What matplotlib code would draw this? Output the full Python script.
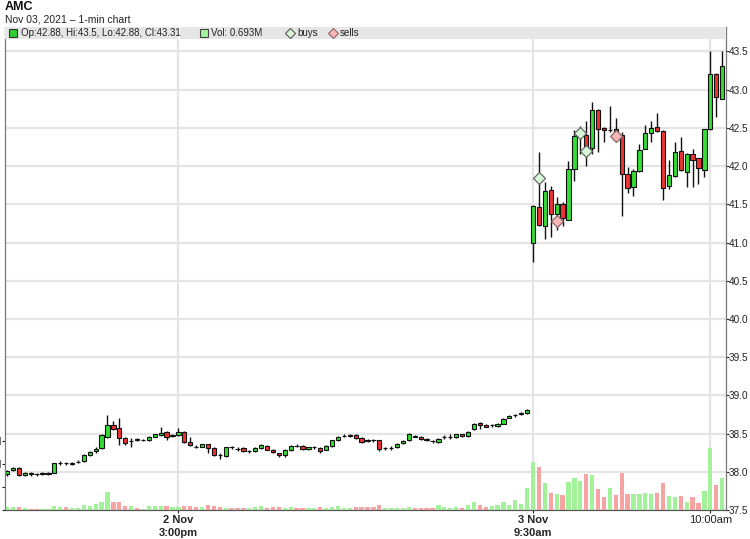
import numpy as np
import matplotlib
matplotlib.use("Agg")
import matplotlib.pyplot as plt
from matplotlib.patches import Rectangle
from matplotlib.lines import Line2D

plt.rcParams['font.family'] = ['Liberation Sans', 'DejaVu Sans']

# ---------------- data ----------------
opens = [37.97, 38.02, 38.05, 37.96, 37.99, 37.97, 37.97, 37.97, 37.99, 38.11,
         38.11, 38.10, 38.13, 38.14, 38.22, 38.27, 38.31, 38.45, 38.61, 38.57,
         38.44, 38.40, 38.43, 38.41, 38.41, 38.46, 38.48, 38.52, 38.47, 38.48,
         38.52, 38.39, 38.33, 38.33, 38.36, 38.31, 38.22, 38.21, 38.32, 38.30,
         38.31, 38.27, 38.27, 38.31, 38.34, 38.29, 38.24, 38.22, 38.28, 38.34,
         38.34, 38.30, 38.32, 38.31, 38.29, 38.34, 38.41, 38.47, 38.47, 38.48,
         38.44, 38.40, 38.41, 38.41, 38.31, 38.31, 38.32, 38.38, 38.41, 38.47,
         38.46, 38.43, 38.40, 38.39, 38.45, 38.45, 38.45, 38.49, 38.47, 38.56,
         38.64, 38.61, 38.61, 38.60, 38.63, 38.71, 38.74, 38.75, 38.77, 41.00,
         41.47, 41.22, 41.69, 41.37, 41.51, 41.30, 41.96, 42.40, 42.41, 42.24,
         42.74, 42.50, 42.47, 42.48, 42.41, 41.90, 41.72, 41.93, 42.23, 42.43,
         42.51, 42.46, 41.74, 41.87, 42.20, 41.92, 42.16, 42.10, 41.95, 42.48,
         43.20, 42.88]
highs = [38.02, 38.06, 38.06, 38.00, 38.00, 37.99, 38.00, 38.00, 38.12, 38.14,
         38.13, 38.13, 38.16, 38.23, 38.27, 38.32, 38.49, 38.74, 38.67, 38.71,
         38.45, 38.44, 38.44, 38.43, 38.47, 38.50, 38.59, 38.54, 38.50, 38.57,
         38.53, 38.45, 38.35, 38.37, 38.37, 38.32, 38.24, 38.33, 38.34, 38.32,
         38.32, 38.28, 38.32, 38.37, 38.35, 38.30, 38.25, 38.30, 38.35, 38.37,
         38.35, 38.33, 38.34, 38.32, 38.35, 38.42, 38.47, 38.49, 38.49, 38.49,
         38.45, 38.43, 38.43, 38.42, 38.33, 38.34, 38.38, 38.41, 38.51, 38.48,
         38.47, 38.44, 38.41, 38.44, 38.48, 38.49, 38.50, 38.50, 38.53, 38.64,
         38.65, 38.62, 38.63, 38.64, 38.70, 38.74, 38.76, 38.78, 38.82, 41.49,
         42.19, 41.79, 41.74, 41.59, 41.53, 42.07, 42.47, 42.52, 42.59, 42.84,
         42.75, 42.51, 42.78, 42.63, 42.45, 41.99, 41.96, 42.29, 42.54, 42.59,
         42.69, 42.47, 42.08, 42.31, 42.38, 42.17, 42.22, 42.11, 42.49, 43.50,
         43.22, 43.50]
lows = [37.95, 38.01, 37.95, 37.95, 37.95, 37.94, 37.96, 37.96, 37.98, 38.09,
        38.09, 38.09, 38.11, 38.13, 38.21, 38.25, 38.30, 38.44, 38.55, 38.35,
        38.35, 38.33, 38.40, 38.40, 38.40, 38.45, 38.47, 38.41, 38.45, 38.47,
        38.38, 38.34, 38.31, 38.32, 38.24, 38.21, 38.17, 38.20, 38.30, 38.27,
        38.26, 38.25, 38.26, 38.30, 38.28, 38.25, 38.20, 38.20, 38.27, 38.32,
        38.29, 38.29, 38.30, 38.24, 38.28, 38.33, 38.40, 38.45, 38.45, 38.43,
        38.38, 38.39, 38.39, 38.27, 38.29, 38.29, 38.31, 38.37, 38.40, 38.45,
        38.42, 38.40, 38.38, 38.38, 38.43, 38.43, 38.44, 38.46, 38.46, 38.55,
        38.56, 38.58, 38.59, 38.59, 38.62, 38.70, 38.72, 38.74, 38.76, 40.75,
        41.22, 41.04, 41.07, 41.16, 41.22, 41.29, 41.81, 42.16, 42.00, 42.16,
        42.19, 42.32, 42.45, 42.40, 41.35, 41.65, 41.61, 41.92, 42.22, 42.32,
        42.45, 41.56, 41.70, 41.86, 41.94, 41.73, 41.73, 41.76, 41.86, 42.47,
        42.64, 42.88]
closes = [38.01, 38.05, 37.96, 37.99, 37.97, 37.97, 37.99, 37.99, 38.11, 38.11,
          38.11, 38.12, 38.13, 38.22, 38.26, 38.30, 38.48, 38.61, 38.56, 38.44,
          38.38, 38.40, 38.41, 38.41, 38.46, 38.49, 38.51, 38.46, 38.48, 38.52,
          38.39, 38.35, 38.33, 38.36, 38.31, 38.22, 38.22, 38.32, 38.32, 38.30,
          38.27, 38.27, 38.31, 38.35, 38.29, 38.26, 38.22, 38.29, 38.34, 38.34,
          38.30, 38.32, 38.32, 38.27, 38.34, 38.41, 38.46, 38.47, 38.48, 38.44,
          38.39, 38.42, 38.41, 38.30, 38.31, 38.31, 38.37, 38.40, 38.50, 38.46,
          38.43, 38.41, 38.40, 38.43, 38.45, 38.45, 38.49, 38.47, 38.52, 38.63,
          38.61, 38.59, 38.61, 38.63, 38.69, 38.73, 38.74, 38.77, 38.81, 41.48,
          41.23, 41.67, 41.37, 41.51, 41.32, 41.96, 42.40, 42.44, 42.24, 42.74,
          42.48, 42.47, 42.47, 42.43, 41.90, 41.71, 41.94, 42.21, 42.43, 42.50,
          42.46, 41.71, 41.88, 42.19, 41.95, 42.16, 42.08, 41.98, 42.48, 43.21,
          42.90, 43.31]
volumes_m = [0.072, 0.059, 0.059, 0.037, 0.028, 0.028, 0.022, 0.028, 0.081, 0.066,
             0.059, 0.050, 0.050, 0.116, 0.081, 0.125, 0.168, 0.400, 0.175, 0.175,
             0.094, 0.094, 0.050, 0.028, 0.081, 0.094, 0.094, 0.088, 0.066, 0.059,
             0.094, 0.088, 0.059, 0.072, 0.103, 0.081, 0.072, 0.050, 0.050, 0.050,
             0.037, 0.050, 0.066, 0.081, 0.050, 0.059, 0.072, 0.050, 0.066, 0.037,
             0.037, 0.050, 0.037, 0.059, 0.050, 0.066, 0.081, 0.044, 0.044, 0.072,
             0.059, 0.059, 0.059, 0.103, 0.037, 0.037, 0.050, 0.050, 0.072, 0.037,
             0.050, 0.037, 0.050, 0.103, 0.066, 0.050, 0.059, 0.044, 0.116, 0.182,
             0.103, 0.066, 0.094, 0.103, 0.182, 0.109, 0.225, 0.131, 0.481, 1.050,
             0.934, 0.584, 0.365, 0.344, 0.328, 0.619, 0.694, 0.635, 0.788, 0.766,
             0.460, 0.291, 0.481, 0.328, 0.816, 0.350, 0.350, 0.350, 0.372, 0.350,
             0.372, 0.597, 0.313, 0.284, 0.306, 0.182, 0.284, 0.160, 0.422, 1.350,
             0.540, 0.693]
volume_dir = ("ggrgrrgggg" "rgggggggrr" "rgrggggrgg" "rrrgrrrgrr" "rgggrrrggr"
              "rggrgggggr" "rrrrgggggr" "rrrggggrgg" "rrgggggggg" "rgrgrgggrg"
              "rrgrrrgggg" "rrggrgrrgg" "rg")

buy_idx = [90, 97, 98]
buy_price = [41.84, 42.43, 42.20]
sell_idx = [93, 103]
sell_price = [41.28, 42.40]

price_ticks = [37.5, 38.0, 38.5, 39.0, 39.5, 40.0, 40.5, 41.0, 41.5, 42.0, 42.5, 43.0, 43.5]
x_tick_idx = [29, 89, 119]
x_tick_labels = ["2 Nov\n3:00pm", "3 Nov\n9:30am", "10:00am"]
x_tick_bold = [True, True, False]
vol_ticks = [0.0, 0.5, 1.0, 1.5]
vol_tick_labels = ["0.0M", "0.5M", "1.0M", "1.5M"]

# ---------------- figure ----------------
W, H = 750, 539
fig = plt.figure(figsize=(W / 100, H / 100), dpi=100)
fig.patch.set_facecolor('white')

ax_l, ax_r, ax_t, ax_b = 5, 725.5, 27, 510
rect = [ax_l / W, 1 - ax_b / H, (ax_r - ax_l) / W, (ax_b - ax_t) / H]
ax = fig.add_axes(rect)
ax_v = ax.twinx()

o = np.array(opens); h = np.array(highs); l = np.array(lows); c = np.array(closes)
idx = np.arange(len(o))
up = c >= o

# grid
ax.set_ylim(37.5, 43.82)
ax.set_xlim(-0.34, 121.57)
ax.set_yticks(price_ticks)
ax.set_xticks(x_tick_idx)
ax.grid(True, color='#e4e4e4', lw=1.6)
ax.set_axisbelow(True)

# candles
ax.vlines(idx, l, h, color='#111111', lw=1.0, zorder=2)
ax.bar(idx, np.abs(c - o), bottom=np.minimum(o, c), width=0.72,
       color=np.where(up, '#33dd33', '#ee3333'), edgecolor='#111111', lw=0.8, zorder=3)

# trades
ax.plot(buy_idx, buy_price, ls='none', marker='D', ms=6, mfc='#d8f8d8', mec='#666666', mew=0.9, zorder=5)
ax.plot(sell_idx, sell_price, ls='none', marker='D', ms=6, mfc='#f8b8b8', mec='#886666', mew=0.9, zorder=5)

# volume
vcol = ['#a2f29a' if d == 'g' else '#f6a3a3' for d in volume_dir]
ax_v.bar(idx, volumes_m, width=0.72, color=vcol, lw=0, zorder=1)
ax_v.set_ylim(0, (ax_b - ax_t) / 45.7)
ax_v.set_xlim(-0.34, 121.57)

# axes styling
ax.yaxis.tick_right()
ax.tick_params(axis='y', which='both', direction='out', length=2.2, pad=0.4,
               labelsize=7.2, colors='#222222', labelcolor='#222222')
ax.set_yticklabels([f"{t:.1f}" for t in price_ticks])
ax.tick_params(axis='x', direction='out', length=2.2, pad=1.5, labelsize=8, colors='#222222')
ax.set_xticklabels(x_tick_labels, linespacing=1.3)
for lab, b in zip(ax.get_xticklabels(), x_tick_bold):
    lab.set_fontweight('bold' if b else 'normal')

ax_v.yaxis.tick_left()
ax_v.set_yticks(vol_ticks)
ax_v.set_yticklabels(vol_tick_labels)
ax_v.tick_params(axis='y', direction='out', length=2.2, pad=0.5, labelsize=7, colors='#222222')

for a in (ax, ax_v):
    a.spines['top'].set_visible(False)
    a.spines['left'].set_color('#777777')
    a.spines['right'].set_color('#777777')
    a.spines['bottom'].set_color('#555555')

# ---------------- header / legend band ----------------
def fx(px):
    return px / W

def fy(py):
    return 1 - py / H

fig.text(fx(5), fy(7), "AMC", fontsize=9, fontweight='bold', va='center', ha='left', color='#111111')
fig.text(fx(5), fy(19), "Nov 03, 2021 \u2013 1-min chart", fontsize=7.5, va='center', ha='left', color='#222222')

fig.add_artist(Rectangle((fx(5), fy(39)), fx(720), 12 / H, transform=fig.transFigure,
                         facecolor='#e6e6e6', edgecolor='none', zorder=5))
fig.add_artist(Line2D([fx(179), fx(179)], [fy(39), fy(27)], transform=fig.transFigure,
                      color='white', lw=1.2, zorder=6))
fig.add_artist(Line2D([fx(13.5)], [fy(33)], transform=fig.transFigure, marker='s', ms=6,
                      mfc='#33cc33', mec='#333333', mew=0.8, ls='none', zorder=7))
fig.text(fx(21), fy(33), "Op:42.88, Hi:43.5, Lo:42.88, Cl:43.31", fontsize=7, va='center',
         ha='left', color='#222222', zorder=7)
fig.add_artist(Line2D([fx(203.5)], [fy(33)], transform=fig.transFigure, marker='s', ms=6,
                      mfc='#a2f29a', mec='#444444', mew=0.8, ls='none', zorder=7))
fig.text(fx(211), fy(33), "Vol: 0.693M", fontsize=7, va='center', ha='left', color='#222222', zorder=7)
fig.add_artist(Line2D([fx(290)], [fy(33)], transform=fig.transFigure, marker='D', ms=5,
                      mfc='#d8f8d8', mec='#555555', mew=0.8, ls='none', zorder=7))
fig.text(fx(297), fy(33), "buys", fontsize=7, va='center', ha='left', color='#222222', zorder=7)
fig.add_artist(Line2D([fx(333)], [fy(33)], transform=fig.transFigure, marker='D', ms=5,
                      mfc='#f8b8b8', mec='#886666', mew=0.8, ls='none', zorder=7))
fig.text(fx(340), fy(33), "sells", fontsize=7, va='center', ha='left', color='#222222', zorder=7)

fig.savefig("out.png", dpi=100)
